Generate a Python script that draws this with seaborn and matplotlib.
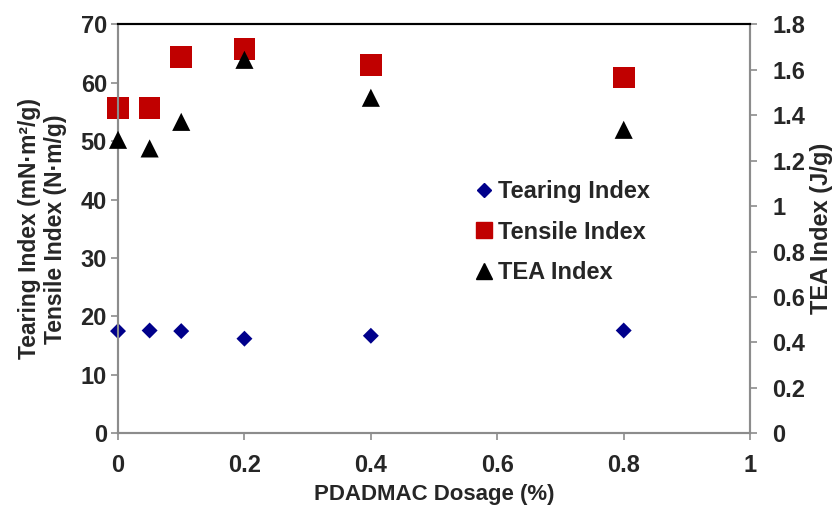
import numpy as np
import pandas as pd
import seaborn as sns
import matplotlib.pyplot as plt
from matplotlib.lines import Line2D

# values
dosage = [0, 0.05, 0.1, 0.2, 0.4, 0.8]
tearing_index = [17.5, 17.6, 17.5, 16.2, 16.7, 17.6]
tensile_index = [55.7, 55.7, 64.4, 65.8, 63.1, 60.9]
tea_index = [1.292, 1.254, 1.371, 1.644, 1.477, 1.336]

BLUE = "#00008b"
RED = "#c00000"
GREY = "#8c8c8c"
FS = 17

sns.set_theme(style="white")
plt.rcParams["font.family"] = ["Liberation Sans", "DejaVu Sans"]
plt.rcParams["font.weight"] = "bold"

df = pd.DataFrame({"dosage": dosage, "tearing": tearing_index,
                   "tensile": tensile_index, "tea": tea_index})

fig, ax = plt.subplots(figsize=(8.4, 5.08), dpi=100)
fig.subplots_adjust(left=0.1405, right=0.893, top=0.952, bottom=0.147)
ax2 = ax.twinx()

sns.scatterplot(data=df, x="dosage", y="tearing", ax=ax, marker="D", s=66,
                color=BLUE, edgecolor="none", zorder=3, clip_on=False)
sns.scatterplot(data=df, x="dosage", y="tensile", ax=ax, marker="s", s=245,
                color=RED, edgecolor="none", zorder=3, clip_on=False)
sns.scatterplot(data=df, x="dosage", y="tea", ax=ax2, marker="^", s=170,
                color="black", edgecolor="none", zorder=3, clip_on=False)

ax.set_xlim(0, 1)
ax.set_ylim(0, 70)
ax2.set_ylim(0, 1.8)
ax.set_xticks(np.arange(0, 1.01, 0.2))
ax.set_xticklabels(["0", "0.2", "0.4", "0.6", "0.8", "1"])
ax.set_yticks(range(0, 71, 10))
ax2.set_yticks(np.arange(0, 1.81, 0.2))
ax2.set_yticklabels(["0", "0.2", "0.4", "0.6", "0.8", "1", "1.2", "1.4", "1.6", "1.8"])

for a in (ax, ax2):
    for side in ("left", "right", "bottom"):
        a.spines[side].set_color(GREY)
        a.spines[side].set_linewidth(1.5)
    a.spines["top"].set_color("black")
    a.spines["top"].set_linewidth(1.5)
    a.tick_params(axis="both", direction="out", length=5, width=1.2, color=GREY,
                  labelsize=FS)
    for lbl in a.get_xticklabels() + a.get_yticklabels():
        lbl.set_fontweight("bold")
ax.tick_params(axis="y", left=True, pad=3)
ax.tick_params(axis="x", bottom=True, pad=10)
ax2.tick_params(axis="y", right=True, pad=11)

ax.set_xlabel("PDADMAC Dosage (%)", fontsize=16, fontweight="bold", labelpad=5)
ax.set_ylabel("Tearing Index (mN\u00b7m\u00b2/g)\nTensile Index (N\u00b7m/g)",
              fontsize=16.5, fontweight="bold", labelpad=10, linespacing=1.15)
ax2.set_ylabel("TEA Index (J/g)", fontsize=FS, fontweight="bold", labelpad=3)

handles = [
    Line2D([], [], ls="none", marker="D", color=BLUE, markersize=6.8),
    Line2D([], [], ls="none", marker="s", color=RED, markersize=12),
    Line2D([], [], ls="none", marker="^", color="black", markersize=11),
]
ax.legend(handles, ["Tearing Index", "Tensile Index", "TEA Index"],
          loc="upper left", bbox_to_anchor=(0.551, 0.643), frameon=False,
          prop={"size": FS, "weight": "bold"}, handlelength=0.7,
          handletextpad=0.25, labelspacing=0.75, borderaxespad=0)

fig.savefig("out.png", dpi=100)
